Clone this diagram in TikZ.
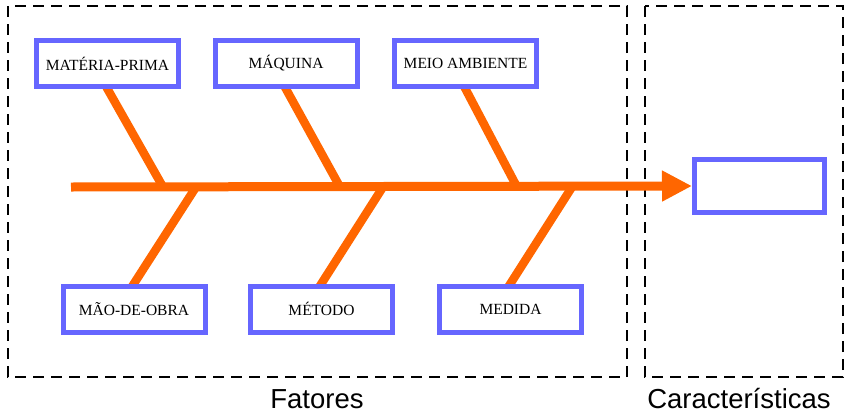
\documentclass[tikz,border=0pt]{standalone}
\usepackage{fontspec}
\setmainfont{Liberation Serif}
\newfontfamily\titlefont{Liberation Sans}
\usetikzlibrary{positioning,arrows.meta,backgrounds}
\definecolor{espinha}{RGB}{255,102,0}
\definecolor{caixa}{RGB}{102,102,255}

\begin{document}
\begin{tikzpicture}[x=1pt, y=-1pt]
  % estilos
  \tikzset{
    causa/.style={draw=caixa, line width=5pt, fill=white, inner sep=0pt,
      minimum width=142pt, minimum height=46pt, font=\fontsize{15.5}{17}\selectfont},
    efeito/.style={causa, minimum width=130pt, minimum height=53pt},
    osso/.style={draw=espinha, line width=8.5pt},
    ramo/.style={osso, shorten <=-6pt},
    zona/.style={draw, line width=2.5pt, dash pattern=on 11pt off 7pt},
    titulo/.style={font=\titlefont\fontsize{27.5}{32}\selectfont}
  }
  \useasboundingbox (0,0) rectangle (852,418);
  % zonas
  \draw[zona] (8,6) rectangle (627,377);
  \draw[zona] (645,6) rectangle (843,377);
  \node[titulo] (fat) at (317,399) {Fatores};
  \node[titulo] (car) at (739,399) {Características};
  % caixas
  \node[causa] (mp)  at (107.5,63.5) {MATÉRIA-PRIMA};
  \node[causa] (maq) at (286,63.5)   {MÁQUINA};
  \node[causa] (amb) at (465.5,63.5) {MEIO AMBIENTE};
  \node[causa] (mo)  at (134,309)    {MÃO-DE-OBRA};
  \node[causa] (met) at (321.5,309)  {MÉTODO};
  \node[causa] (med) at (510.5,309)  {MEDIDA};
  \node[efeito] (res) at (759.5,186) {};
  % espinha
  \coordinate (cab) at (71,187);
  \coordinate (j1) at (163,187);
  \coordinate (j2) at (340,187);
  \coordinate (j3) at (517,187);
  \coordinate (j4) at (196,187);
  \coordinate (j5) at (383,187);
  \coordinate (j6) at (572,187);
  \draw[osso, line width=9pt, -{Triangle[length=30pt,width=29pt]}] (cab) -- (res.west);
  % ramos
  \begin{scope}[on background layer]
    \draw[ramo] (mp.south) -- (j1);
    \draw[ramo] (maq.south) -- (j2);
    \draw[ramo] (amb.south) -- (j3);
    \draw[ramo] (mo.north) -- (j4);
    \draw[ramo] (met.north) -- (j5);
    \draw[ramo] (med.north) -- (j6);
  \end{scope}
\end{tikzpicture}
\end{document}
